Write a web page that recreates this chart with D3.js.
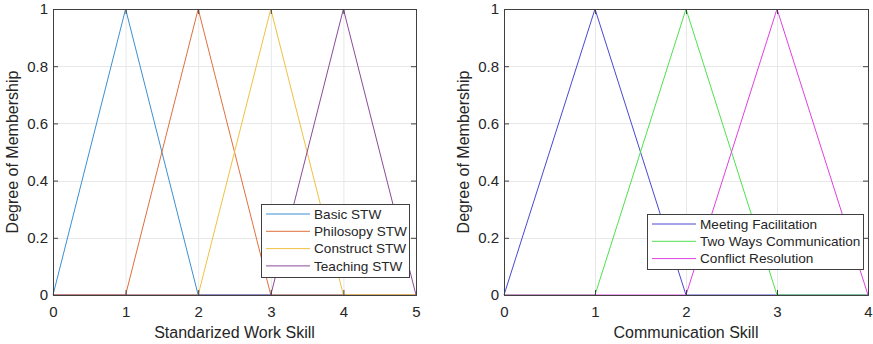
<!DOCTYPE html>
<html><head><meta charset="utf-8">
<script src="https://cdn.jsdelivr.net/npm/d3@7"></script>
<style>body{margin:0;background:#fff}svg{display:block;font-family:"Liberation Sans",Arial,sans-serif}</style>
</head><body>
<svg id="c" width="873" height="344"></svg>
<script>
// Left panel data
const leftX = [0,1,2,3,4,5];
const leftNames = ["Basic STW","Philosopy STW","Construct STW","Teaching STW"];
const basicSTW      = [0,1,0,0,0,0];
const philosopySTW  = [0,0,1,0,0,0];
const constructSTW  = [0,0,0,1,0,0];
const teachingSTW   = [0,0,0,0,1,0];
const leftColors = ["#3d8fd1","#e0703d","#f0c040","#8a4a9a"];
const leftXTicks = [0,1,2,3,4,5];

// Right panel data
const rightX = [0,1,2,3,4];
const rightNames = ["Meeting Facilitation","Two Ways Communication","Conflict Resolution"];
const meetingFac   = [0,1,0,0,0];
const twoWaysComm  = [0,0,1,0,0];
const conflictRes  = [0,0,0,1,0];
const rightColors = ["#4848d0","#50e050","#e040e0"];
const rightXTicks = [0,1,2,3,4];

const yTicks = [0,0.2,0.4,0.6,0.8,1];
const yLabel = "Degree of Membership";

const svg = d3.select("#c");

function panel(opt){
  const g = svg.append("g");
  const x = d3.scaleLinear().domain(opt.xdom).range([opt.x0, opt.x1]);
  const y = d3.scaleLinear().domain([0,1]).range([opt.y1, opt.y0]);
  // grid
  g.append("g").selectAll("line").data(opt.xticks).join("line")
    .attr("x1",d=>x(d)+0.5).attr("x2",d=>x(d)+0.5).attr("y1",opt.y0).attr("y2",opt.y1)
    .attr("stroke","#e8e8e8").attr("stroke-width",1);
  g.append("g").selectAll("line").data(yTicks).join("line")
    .attr("y1",d=>Math.round(y(d))+0.5).attr("y2",d=>Math.round(y(d))+0.5).attr("x1",opt.x0).attr("x2",opt.x1)
    .attr("stroke","#e8e8e8").attr("stroke-width",1);
  // lines
  const line = d3.line().x(d=>x(d[0])).y(d=>y(d[1]));
  opt.series.forEach((s,i)=>{
    g.append("path").datum(opt.xs.map((v,j)=>[v,s[j]]))
      .attr("d",line).attr("fill","none").attr("stroke",opt.colors[i]).attr("stroke-width",1);
  });
  // axes
  const ax = d3.axisBottom(x).tickValues(opt.xticks).tickSize(-5).tickPadding(11).tickFormat(d3.format("d"));
  const ay = d3.axisLeft(y).tickValues(yTicks).tickSize(-5).tickPadding(5).tickFormat(d=>d===0||d===1?String(d):d.toFixed(1));
  const axT = d3.axisTop(x).tickValues(opt.xticks).tickSize(-5).tickFormat("");
  const ayR = d3.axisRight(y).tickValues(yTicks).tickSize(-5).tickFormat("");
  const style = s=>{
    s.selectAll("path.domain").attr("stroke","#404040");
    s.selectAll(".tick line").attr("stroke","#404040");
    s.selectAll("text").attr("fill","#262626").attr("font-size","15px").attr("font-family","Liberation Sans, Arial, sans-serif");
  };
  g.append("g").attr("transform",`translate(0,${opt.y1})`).call(ax).call(style);
  g.append("g").attr("transform",`translate(${opt.x0},0)`).call(ay).call(style);
  g.append("g").attr("transform",`translate(0,${opt.y0})`).call(axT).call(style);
  g.append("g").attr("transform",`translate(${opt.x1},0)`).call(ayR).call(style);
  // labels
  g.append("text").attr("x",(opt.x0+opt.x1)/2).attr("y",338).attr("text-anchor","middle")
    .attr("font-size","16px").attr("fill","#262626").text(opt.xlabel);
  g.append("text").attr("transform",`translate(${opt.x0-35},${(opt.y0+opt.y1)/2}) rotate(-90)`)
    .attr("text-anchor","middle").attr("font-size","16px").attr("fill","#262626").text(yLabel);
  // legend
  const L = opt.legend;
  const lg = g.append("g");
  lg.append("rect").attr("x",L.x+0.5).attr("y",L.y+0.5).attr("width",L.w).attr("height",L.h)
    .attr("fill","#fff").attr("stroke","#404040").attr("stroke-width",1);
  opt.names.forEach((n,i)=>{
    const yy = L.y + 10 + i*17.3;
    lg.append("line").attr("x1",L.x+5).attr("x2",L.x+49).attr("y1",yy).attr("y2",yy)
      .attr("stroke",opt.colors[i]).attr("stroke-width",1);
    lg.append("text").attr("x",L.x+53).attr("y",yy+4.8).attr("font-size","13.6px").attr("fill","#262626").text(n);
  });
}

panel({xdom:[0,5], x0:53, x1:416, y0:9, y1:295, xs:leftX, series:[basicSTW,philosopySTW,constructSTW,teachingSTW],
  colors:leftColors, names:leftNames, xticks:leftXTicks, xlabel:"Standarized Work Skill",
  legend:{x:261,y:204,w:148,h:73}});
panel({xdom:[0,4], x0:504, x1:868, y0:9, y1:295, xs:rightX, series:[meetingFac,twoWaysComm,conflictRes],
  colors:rightColors, names:rightNames, xticks:rightXTicks, xlabel:"Communication Skill",
  legend:{x:647,y:214,w:216,h:55}});
</script>
</body></html>
